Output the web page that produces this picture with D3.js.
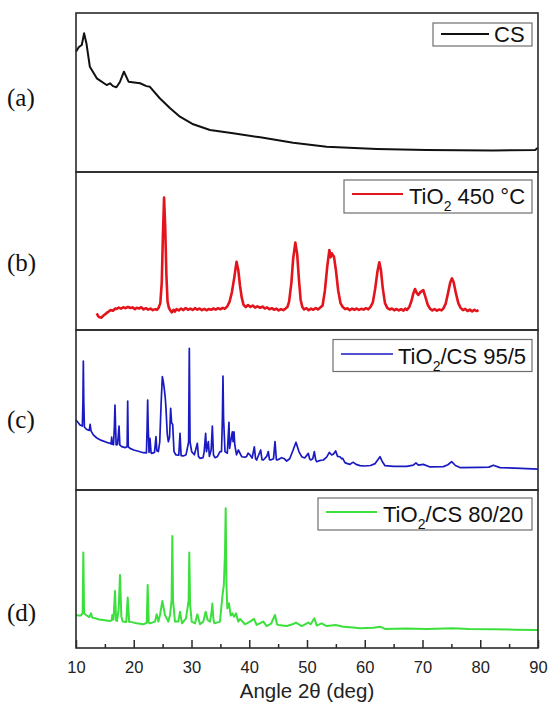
<!DOCTYPE html>
<html>
<head>
<meta charset="utf-8">
<script src="https://cdn.jsdelivr.net/npm/d3@7/dist/d3.min.js"></script>
<style>
  html, body { margin: 0; padding: 0; background: #fff; }
  svg { display: block; }
</style>
</head>
<body>
<svg id="chart" width="550" height="713"></svg>
<script>
// ---------------- DATA (relative intensity, a.u., 0-100 within each panel) ----------------
const xTickMajor = [10, 20, 30, 40, 50, 60, 70, 80, 90];
const xTickMinor = [15, 25, 35, 45, 55, 65, 75, 85];
const panelLetters = ["(a)", "(b)", "(c)", "(d)"];
const seriesNames = ["CS", "TiO2 450 °C", "TiO2/CS 95/5", "TiO2/CS 80/20"];

// (a) CS
const csAngle = [10.0, 10.5, 11.0, 11.4, 11.8, 12.4, 13.6, 15.3, 15.9, 16.4, 17.0, 17.6, 18.3, 19.1, 21.1, 22.2, 22.8, 24.5, 26.3, 28.0, 30.3, 33.2, 37.2, 41.9, 47.6, 53.4, 62.1, 70.7, 82.3, 89.5, 90.0];
const csIntensity = [75.7, 78.6, 79.9, 87.2, 81.0, 66.2, 58.9, 54.7, 55.8, 54.0, 53.3, 56.6, 63.1, 56.8, 55.8, 54.0, 53.6, 46.4, 40.1, 34.8, 30.0, 26.4, 24.3, 21.8, 18.4, 15.9, 14.5, 13.8, 13.6, 13.8, 15.3];

// (b) TiO2 450 °C
const tioAngle = [13.6, 13.8, 14.0, 14.4, 14.7, 15.0, 15.3, 15.6, 16.0, 16.4, 16.8, 17.0, 17.4, 17.8, 18.2, 18.6, 19.0, 19.4, 19.8, 20.2, 20.5, 20.9, 21.3, 21.7, 22.1, 22.5, 22.9, 23.3, 23.7, 24.0, 24.3, 24.6, 24.85, 25.05, 25.25, 25.45, 25.65, 25.85, 26.05, 26.3, 26.6, 26.9, 27.1, 27.4, 27.8, 28.2, 28.6, 29.0, 29.4, 29.8, 30.2, 30.6, 31.0, 31.4, 31.8, 32.2, 32.6, 33.0, 33.4, 33.8, 34.2, 34.6, 35.0, 35.4, 35.8, 36.2, 36.6, 37.0, 37.4, 37.8, 38.1, 38.4, 38.7, 39.0, 39.4, 39.8, 40.2, 40.6, 41.0, 41.4, 41.9, 42.3, 42.7, 43.1, 43.5, 43.9, 44.3, 44.7, 45.1, 45.5, 45.9, 46.3, 46.6, 46.9, 47.3, 47.6, 47.98, 48.3, 48.6, 48.9, 49.2, 49.5, 49.9, 50.3, 50.7, 51.1, 51.5, 51.9, 52.3, 52.7, 53.1, 53.5, 53.87, 54.1, 54.3, 54.67, 55.0, 55.4, 55.8, 56.2, 56.6, 57.0, 57.4, 57.8, 58.2, 58.6, 59.0, 59.4, 59.8, 60.2, 60.6, 61.0, 61.4, 61.8, 62.2, 62.52, 62.8, 63.1, 63.5, 63.9, 64.3, 64.7, 65.1, 65.5, 65.9, 66.3, 66.7, 67.0, 67.3, 67.7, 68.1, 68.4, 68.7, 69.0, 69.28, 69.6, 70.14, 70.5, 70.9, 71.3, 71.7, 72.1, 72.5, 72.9, 73.3, 73.6, 74.0, 74.4, 74.8, 75.1, 75.4, 75.8, 76.2, 76.6, 77.0, 77.4, 77.8, 78.2, 78.6, 79.0, 79.4, 79.7];
const tioIntensity = [10.5, 9.0, 8.2, 7.8, 9.0, 9.8, 10.8, 11.5, 12.6, 12.2, 13.6, 13.3, 14.2, 13.5, 14.4, 13.8, 14.6, 13.9, 14.3, 13.2, 14.1, 13.6, 14.4, 13.0, 13.8, 12.9, 13.5, 12.6, 13.2, 12.7, 14.0, 17.0, 30.0, 60.0, 83.8, 65.0, 35.0, 18.0, 14.5, 12.5, 11.2, 12.8, 11.6, 13.2, 12.4, 13.6, 12.6, 13.9, 12.8, 13.5, 12.7, 13.8, 12.9, 13.6, 12.6, 13.4, 12.5, 13.3, 12.8, 13.6, 12.9, 13.8, 13.1, 14.0, 13.5, 15.0, 18.0, 24.0, 33.0, 43.2, 38.0, 28.0, 20.5, 16.0, 14.5, 15.8, 14.6, 15.5, 14.2, 15.0, 14.1, 14.8, 13.6, 14.3, 13.1, 13.8, 12.8, 13.5, 12.4, 13.2, 12.6, 13.6, 14.5, 18.0, 30.0, 45.0, 55.3, 48.0, 32.0, 19.0, 14.5, 13.0, 13.8, 12.5, 13.5, 12.8, 13.9, 13.0, 14.2, 15.5, 25.0, 40.0, 50.6, 46.0, 48.5, 46.4, 38.0, 25.0, 17.0, 14.5, 13.2, 13.7, 12.6, 13.5, 12.8, 13.6, 12.7, 13.4, 12.9, 13.8, 13.1, 14.6, 17.5, 26.0, 37.0, 42.8, 38.0, 27.0, 17.0, 14.0, 13.0, 13.6, 12.5, 13.3, 12.4, 13.2, 12.3, 13.5, 12.7, 14.5, 18.5, 23.0, 25.9, 23.5, 22.2, 23.8, 25.3, 21.0, 16.0, 13.5, 12.4, 13.3, 12.2, 13.0, 12.4, 13.5, 16.5, 23.0, 30.0, 32.7, 30.0, 23.0, 17.0, 14.0, 12.6, 13.4, 12.0, 12.9, 11.8, 12.8, 12.0, 12.6];

// (c) TiO2/CS 95/5
const mix95Angle = [10.0, 10.4, 10.69, 11.1, 11.2, 11.27, 11.35, 11.45, 11.8, 12.3, 12.45, 12.6, 13.0, 13.6, 14.4, 15.3, 15.89, 16.08, 16.18, 16.28, 16.5, 16.65, 16.75, 16.85, 16.95, 17.2, 17.45, 17.6, 17.91, 18.5, 18.85, 18.95, 19.05, 19.35, 20.0, 20.8, 21.66, 22.2, 22.32, 22.41, 22.5, 22.65, 22.81, 23.0, 23.1, 23.6, 23.85, 24.0, 24.26, 24.5, 24.75, 24.95, 25.1, 25.24, 25.45, 25.58, 25.8, 25.99, 26.2, 26.39, 26.55, 26.74, 26.97, 27.32, 27.8, 28.01, 28.2, 28.6, 29.05, 29.5, 29.62, 29.75, 30.03, 30.5, 31.01, 31.2, 31.47, 32.0, 32.2, 32.45, 32.6, 32.91, 33.1, 33.4, 33.61, 33.8, 34.07, 34.5, 34.93, 35.2, 35.35, 35.45, 35.55, 35.8, 36.2, 36.49, 36.6, 36.78, 37.07, 37.2, 37.36, 37.5, 37.8, 38.11, 38.69, 39.26, 39.55, 39.8, 40.13, 40.5, 40.88, 41.1, 41.28, 41.98, 42.2, 42.44, 43.02, 43.3, 43.5, 43.71, 44.2, 44.46, 44.7, 44.86, 45.61, 46.1, 46.48, 47.0, 47.6, 48.09, 48.6, 49.08, 49.6, 50.23, 50.45, 50.63, 51.0, 51.27, 51.5, 51.67, 52.3, 52.83, 53.4, 53.87, 54.27, 54.6, 54.96, 55.3, 55.71, 56.0, 56.18, 56.58, 57.0, 57.45, 57.8, 58.02, 58.5, 59.18, 60.0, 61.0, 61.8, 62.3, 62.64, 63.0, 63.51, 65.0, 67.26, 68.41, 68.87, 69.28, 70.14, 71.3, 73.61, 74.4, 75.05, 75.7, 76.49, 80.0, 81.5, 82.27, 83.42, 86.0, 90.0];
const mix95Intensity = [43.75, 42.0, 40.6, 40.0, 55.0, 80.6, 55.0, 39.4, 38.0, 37.2, 41.0, 37.0, 34.4, 32.5, 31.0, 29.8, 29.2, 28.8, 33.0, 28.6, 28.4, 40.0, 53.1, 40.0, 28.2, 28.5, 40.0, 28.0, 27.1, 26.5, 27.0, 55.6, 27.0, 26.0, 25.0, 24.2, 23.3, 23.2, 40.0, 56.25, 40.0, 23.5, 32.3, 23.3, 22.9, 23.5, 33.3, 24.5, 24.0, 30.0, 55.0, 70.8, 68.0, 64.6, 58.0, 51.0, 35.0, 30.2, 33.0, 51.0, 42.0, 41.0, 24.0, 21.9, 21.8, 35.4, 21.5, 21.3, 22.0, 30.0, 88.5, 30.0, 24.0, 22.0, 29.2, 21.0, 19.8, 20.2, 24.0, 35.4, 24.0, 30.2, 21.0, 25.0, 40.0, 22.0, 20.2, 21.0, 24.0, 24.0, 45.0, 71.25, 45.0, 24.0, 23.0, 42.3, 26.0, 30.2, 36.3, 30.2, 36.3, 28.0, 22.0, 25.0, 20.8, 20.5, 21.0, 23.0, 21.9, 20.0, 27.0, 19.5, 18.75, 25.0, 19.0, 18.75, 21.0, 24.0, 19.0, 18.75, 19.5, 30.2, 19.0, 18.75, 20.2, 19.5, 18.1, 19.5, 25.0, 29.8, 24.0, 20.8, 20.0, 22.9, 19.5, 18.75, 19.5, 24.0, 19.0, 17.7, 18.5, 18.75, 20.5, 23.5, 21.9, 22.5, 24.4, 21.0, 20.8, 19.5, 19.8, 17.1, 16.5, 16.0, 17.0, 17.3, 16.0, 15.2, 15.0, 15.3, 16.5, 19.0, 20.8, 18.0, 15.2, 14.8, 14.8, 15.5, 16.9, 15.6, 16.0, 14.4, 14.6, 15.8, 17.7, 15.3, 14.0, 14.2, 14.3, 15.5, 14.0, 13.7, 13.1];

// (d) TiO2/CS 80/20
const mix80Angle = [10.0, 10.5, 10.81, 11.15, 11.27, 11.4, 11.73, 12.3, 12.6, 12.8, 13.0, 14.0, 15.0, 15.89, 16.18, 16.29, 16.5, 16.75, 16.95, 17.1, 17.4, 17.62, 17.85, 18.08, 18.7, 18.95, 19.2, 19.35, 20.5, 21.66, 22.25, 22.41, 22.6, 22.81, 23.68, 23.97, 24.26, 24.55, 24.95, 25.41, 25.99, 26.28, 26.55, 26.68, 26.8, 27.14, 27.72, 28.01, 28.35, 29.05, 29.5, 29.62, 29.75, 30.03, 30.61, 31.01, 31.47, 32.05, 32.45, 32.8, 33.2, 33.45, 33.61, 33.8, 33.95, 34.93, 35.34, 35.6, 35.8, 35.92, 36.05, 36.2, 36.49, 36.78, 37.07, 37.36, 37.7, 38.11, 38.4, 39.26, 40.13, 40.82, 41.28, 42.44, 43.02, 43.8, 44.46, 44.8, 45.03, 46.48, 47.5, 48.09, 49.08, 50.23, 50.63, 51.27, 51.67, 52.54, 53.41, 54.96, 56.29, 58.02, 59.18, 61.5, 62.64, 63.51, 67.0, 70.72, 75.34, 78.0, 82.27, 86.0, 90.0];
const mix80Intensity = [20.9, 20.5, 20.5, 22.0, 60.5, 22.0, 20.9, 19.5, 21.9, 19.3, 19.2, 18.0, 17.5, 17.1, 17.5, 20.9, 18.0, 36.1, 17.4, 17.1, 25.0, 46.2, 20.0, 16.7, 16.5, 31.9, 16.5, 16.7, 15.6, 15.0, 16.0, 39.9, 16.0, 15.6, 16.7, 21.3, 16.7, 20.9, 29.7, 20.9, 16.7, 20.9, 30.0, 70.9, 30.0, 16.7, 16.7, 23.0, 15.6, 18.8, 30.0, 60.5, 28.0, 16.7, 15.6, 21.3, 15.0, 16.7, 23.0, 17.7, 16.7, 22.0, 28.1, 18.0, 15.6, 16.7, 32.5, 40.0, 60.0, 88.4, 40.0, 25.1, 28.3, 20.5, 21.9, 19.8, 21.9, 16.7, 18.4, 15.0, 16.7, 18.4, 14.6, 16.7, 13.9, 15.5, 20.9, 15.0, 14.6, 13.9, 15.0, 16.1, 13.9, 16.1, 15.0, 18.8, 14.2, 15.6, 13.9, 14.6, 13.5, 12.9, 12.5, 12.8, 13.5, 12.1, 12.3, 12.1, 12.5, 12.0, 11.9, 11.6, 11.4];

// ---------------- LAYOUT ----------------
const svg = d3.select("#chart");
const x = d3.scaleLinear().domain([10, 90]).range([76, 538]);
const panelTops = [13, 172, 330, 490];
const panelBottoms = [172, 330, 490, 648];
const colors = ["#111111", "#e3141c", "#1a1ac2", "#3ce03c"];
const strokeW = [2.0, 2.6, 1.7, 2.0];
const legendStrokeW = [2.0, 2.0, 1.7, 2.0];
const letterY = [97, 262, 419, 612];

const seriesData = [
  csAngle.map((a, i) => [a, csIntensity[i]]),
  tioAngle.map((a, i) => [a, tioIntensity[i]]),
  mix95Angle.map((a, i) => [a, mix95Intensity[i]]),
  mix80Angle.map((a, i) => [a, mix80Intensity[i]])
];

// legend geometry: [boxX, boxY, boxW, boxH, lineX1, lineX2, lineY, textX, textBaseline]
const legendBoxes = [
  [433, 23, 99, 23, 441, 489, 34, 494, 41.5],
  [344, 180, 188, 33, 352, 403, 194, 409, 204],
  [333, 339.5, 199, 32, 341, 393, 354, 398, 363.5],
  [318, 498, 214, 32, 326, 377, 512, 383, 522]
];

seriesData.forEach((pts, k) => {
  const y = d3.scaleLinear().domain([0, 100]).range([panelBottoms[k], panelTops[k]]);
  const g = svg.append("g");
  const line = d3.line().x(d => x(d[0])).y(d => y(d[1]));
  g.append("path")
    .datum(pts)
    .attr("d", line)
    .attr("fill", "none")
    .attr("stroke", colors[k])
    .attr("stroke-width", strokeW[k])
    .attr("stroke-linejoin", "round");

  // legend
  const L = legendBoxes[k];
  g.append("rect").attr("x", L[0]).attr("y", L[1]).attr("width", L[2]).attr("height", L[3])
    .attr("fill", "#fff").attr("stroke", "#6e6e6e").attr("stroke-width", 1.2);
  g.append("line").attr("x1", L[4]).attr("x2", L[5]).attr("y1", L[6]).attr("y2", L[6])
    .attr("stroke", colors[k]).attr("stroke-width", legendStrokeW[k]);
  const t = g.append("text").attr("x", L[7]).attr("y", L[8])
    .attr("font-family", "Liberation Sans, Arial, sans-serif").attr("font-size", 22).attr("fill", "#111");
  const name = seriesNames[k];
  if (name.startsWith("TiO2")) {
    t.append("tspan").text("TiO");
    t.append("tspan").attr("font-size", 14).attr("dy", 7).text("2");
    t.append("tspan").attr("dy", -7).text(name.slice(4));
  } else {
    t.text(name);
  }

  // panel letter
  svg.append("text").attr("x", 7).attr("y", letterY[k]).attr("dy", "0.35em")
    .attr("font-family", "Liberation Serif, Times New Roman, serif").attr("font-size", 25)
    .attr("fill", "#111").text(panelLetters[k]);
});

// frames
panelTops.forEach((t, k) => {
  svg.append("rect").attr("x", x(10)).attr("y", t)
    .attr("width", x(90) - x(10)).attr("height", panelBottoms[k] - t)
    .attr("fill", "none").attr("stroke", "#2a2a2a").attr("stroke-width", 1.6);
});

// bottom axis: inward ticks
const yBase = panelBottoms[3];
const major = svg.append("g").attr("transform", `translate(0,${yBase})`)
  .call(d3.axisTop(x).tickValues(xTickMajor).tickSize(8).tickFormat(""));
const minor = svg.append("g").attr("transform", `translate(0,${yBase})`)
  .call(d3.axisTop(x).tickValues(xTickMinor).tickSize(4).tickFormat(""));
[major, minor].forEach(a => {
  a.select(".domain").remove();
  a.selectAll("line").attr("stroke", "#2a2a2a").attr("stroke-width", 1.5);
});
const labels = svg.append("g").attr("transform", `translate(0,${yBase})`)
  .call(d3.axisBottom(x).tickValues(xTickMajor).tickSize(0).tickPadding(13).tickFormat(d3.format("d")));
labels.select(".domain").remove();
labels.selectAll("text").attr("font-family", "Liberation Sans, Arial, sans-serif")
  .attr("font-size", 16.5).attr("fill", "#222");

svg.append("text").attr("x", 307).attr("y", 698).attr("text-anchor", "middle")
  .attr("font-family", "Liberation Sans, Arial, sans-serif").attr("font-size", 20.5)
  .attr("fill", "#222").text("Angle 2θ (deg)");
</script>
</body>
</html>
